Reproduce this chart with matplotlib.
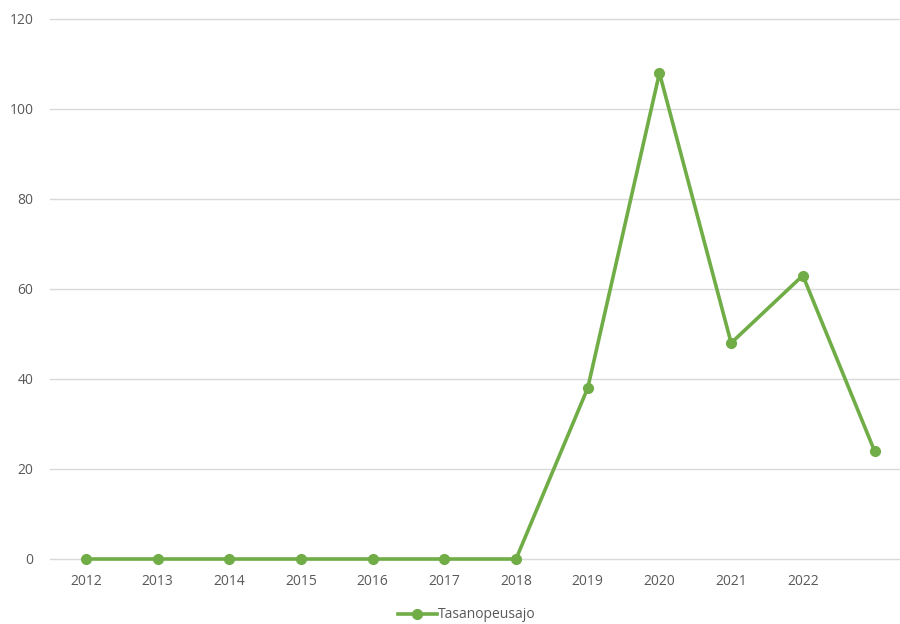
import matplotlib
matplotlib.use("Agg")
import matplotlib.pyplot as plt
from matplotlib.lines import Line2D

categories = ["2012", "2013", "2014", "2015", "2016", "2017", "2018", "2019", "2020", "2021", "2022", ""]
values = [0, 0, 0, 0, 0, 0, 0, 38, 108, 48, 63, 24]
series_name = "Tasanopeusajo"
yticks = [0, 20, 40, 60, 80, 100, 120]

plt.rcParams['font.family'] = ['Open Sans', 'DejaVu Sans']
green = "#70AD47"
txt = "#595959"

fig = plt.figure(figsize=(9, 6.24), dpi=100)
step = 71.7
ax = fig.add_axes([50/900, 65/624, 12*step/900, 540/624])
x = list(range(len(values)))
ax.plot(x, values, color=green, lw=2.6, marker='o', markersize=7, solid_capstyle='round', zorder=3, clip_on=False)
ax.set_xlim(-0.5, len(values) - 0.5)
ax.set_ylim(0, 120)
ax.set_yticks(yticks)
ax.set_xticks(x)
ax.set_xticklabels(categories)
ax.tick_params(axis='both', length=0, labelsize=10, labelcolor=txt)
ax.tick_params(axis='y', pad=12)
ax.tick_params(axis='x', pad=11)
for s in ax.spines.values():
    s.set_visible(False)
ax.grid(axis='y', color='#D9D9D9', lw=1)
for gl in ax.get_ygridlines():
    gl.set_clip_on(False)
ax.set_axisbelow(True)

handle = Line2D([], [], color=green, lw=2.6, marker='o', markersize=7)
fig.legend([handle], [series_name], loc='center', bbox_to_anchor=(467/900, 1 - 615/624),
           frameon=False, fontsize=10, labelcolor=txt, handlelength=2.8, handletextpad=0.1)

fig.savefig("out.png", dpi=100)
